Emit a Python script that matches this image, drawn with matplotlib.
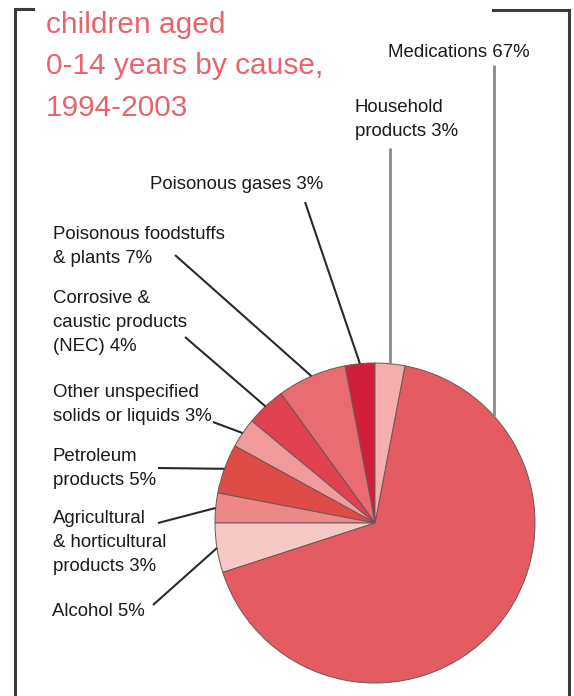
import numpy as np
import matplotlib
matplotlib.use("Agg")
import matplotlib.pyplot as plt

# ---- data (counter-clockwise from 12 o'clock) ----
categories = ["Poisonous gases", "Poisonous foodstuffs & plants",
              "Corrosive & caustic products (NEC)", "Other unspecified solids or liquids",
              "Petroleum products", "Agricultural & horticultural products",
              "Alcohol", "Medications", "Household products"]
values = [3, 7, 4, 3, 5, 3, 5, 67, 3]
labels = ["Poisonous gases 3%",
          "Poisonous foodstuffs\n& plants 7%",
          "Corrosive &\ncaustic products\n(NEC) 4%",
          "Other unspecified\nsolids or liquids 3%",
          "Petroleum\nproducts 5%",
          "Agricultural\n& horticultural\nproducts 3%",
          "Alcohol 5%",
          "Medications 67%",
          "Household\nproducts 3%"]
colors = ["#D21E3A", "#E86C70", "#E0424F", "#F09A9C", "#DE4C48",
          "#EE8788", "#F8C8C6", "#E45B61", "#F6AEAD"]
title_lines = "children aged\n0-14 years by cause,\n1994-2003"

W, H = 574, 696
def Y(y):
    return H - y

fig = plt.figure(figsize=(W / 100, H / 100), dpi=100)
ax = fig.add_axes([0, 0, 1, 1])

cx, cy, R = 375, Y(523), 160
wedges, _ = ax.pie(values, colors=colors, startangle=90, counterclock=True,
                   center=(cx, cy), radius=R,
                   wedgeprops=dict(edgecolor="#6e5555", linewidth=0.7))
ax.set_xlim(0, W)
ax.set_ylim(0, H)
ax.set_aspect("equal")
ax.axis("off")

lab_font = ["Liberation Sans", "DejaVu Sans"]
fs = 13.4
ls = 1.52
off = -1
# label layout: (x, cap-top y in image px), line start (image px)
layout = {
    0: ((150, 175), (305, 202)),
    1: ((53, 225), (175, 255)),
    2: ((53, 289), (185, 337)),
    3: ((53, 383), (213, 422)),
    4: ((53, 447), (158, 468)),
    5: ((53, 509), (158, 523)),
    6: ((52, 602), (153, 605)),
}
for i, w in enumerate(wedges):
    mid = np.deg2rad((w.theta1 + w.theta2) / 2)
    ex, ey = cx + R * np.cos(mid), cy + R * np.sin(mid)
    if i in layout:
        (tx, ty), (lx, ly) = layout[i]
        ax.plot([lx, ex], [Y(ly), ey], color="#2a2a2a", lw=1.5, solid_capstyle="butt")
        ax.text(tx, Y(ty) + off, labels[i], ha="left", va="top", fontsize=fs,
                family=lab_font, color="#1a1a1a", linespacing=ls)
    elif i == 8:  # household
        ax.plot([ex, ex], [Y(148), ey], color="#8a8a8a", lw=2.0, solid_capstyle="butt")
        ax.text(355, Y(98) + off, labels[i], ha="left", va="top", fontsize=fs,
                family=lab_font, color="#1a1a1a", linespacing=ls)
    elif i == 7:  # medications
        mx = 494
        my = cy + np.sqrt(R ** 2 - (mx - cx) ** 2)
        ax.plot([mx, mx], [Y(65), my], color="#8a8a8a", lw=2.0, solid_capstyle="butt")
        ax.text(388, Y(43) + off, labels[i], ha="left", va="top", fontsize=fs,
                family=lab_font, color="#1a1a1a")

# title
ax.text(46, Y(12) + 1, title_lines, ha="left", va="top", fontsize=21.5,
        family=["Liberation Sans", "DejaVu Sans"], color="#E8646B", linespacing=1.61)

# frame brackets
fc = "#3a3a3a"
ax.plot([33, 14.5, 14.5], [Y(9), Y(9), Y(700)], color=fc, lw=2.2, solid_joinstyle="miter")
ax.plot([493, 568.5, 568.5], [Y(10), Y(10), Y(700)], color=fc, lw=2.2, solid_joinstyle="miter")

fig.savefig("out.png", dpi=100)
